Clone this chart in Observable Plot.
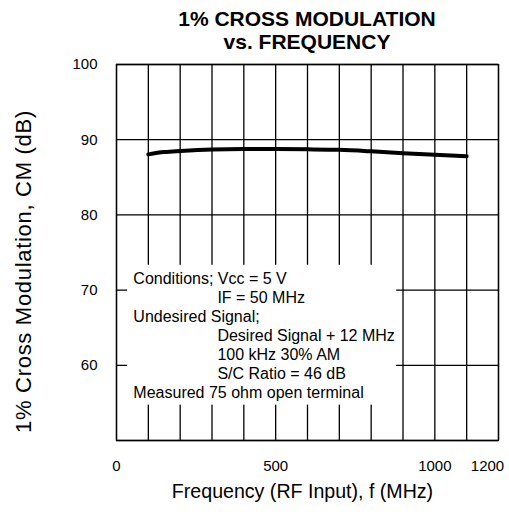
<!DOCTYPE html>
<html><head><meta charset="utf-8">
<script src="https://cdn.jsdelivr.net/npm/d3@7"></script>
<script src="https://cdn.jsdelivr.net/npm/@observablehq/plot@0.6"></script>
<style>
body{margin:0;background:#fff;font-family:"Liberation Sans",Arial,sans-serif;}
#title{margin-left:105px;width:404px;text-align:center;font-weight:bold;font-size:21px;line-height:23px;padding-top:7px;height:46px;color:#000;}
</style></head><body>
<div id="title">1% CROSS MODULATION<br>vs. FREQUENCY</div>
<div id="chart"></div>
<script>
const freq = [100, 150, 200, 300, 400, 500, 600, 700, 800, 900, 1000, 1100];
const cm   = [88.05, 88.35, 88.5, 88.7, 88.75, 88.75, 88.72, 88.65, 88.45, 88.2, 88.0, 87.8];
const xTickMain = [0, 500, 1000];
const xTickEnd = [1200];
const yTicks = [60, 70, 80, 90, 100];
const xGrid = [0, 100, 200, 300, 400, 500, 600, 700, 800, 900, 1000, 1100, 1200];
const yGrid = [50, 60, 70, 80, 90, 100];
const noteLines = [
  "Conditions; Vcc = 5 V",
  "IF = 50 MHz",
  "Undesired Signal;",
  "Desired Signal + 12 MHz",
  "100 kHz 30% AM",
  "S/C Ratio = 46 dB",
  "Measured 75 ohm open terminal"
];
const noteIndent = [false, true, false, true, true, true, false];
const xLabel = "Frequency (RF Input), f (MHz)";
const yLabel = "1% Cross Modulation, CM (dB)";

const data = freq.map((f, i) => ({f, v: cm[i]}));
const notes = noteLines.map((t, i) => ({t, i, indent: noteIndent[i]}));
const noteTop = 71.5, noteStep = 2.527;
const font = "Liberation Sans, Arial, sans-serif";
const fmt = d => String(d);

const chart = Plot.plot({
  width: 509, height: 466,
  marginTop: 11, marginBottom: 79, marginLeft: 116, marginRight: 11,
  style: {fontFamily: font, color: "#000", background: "#fff"},
  x: {domain: [0, 1200]},
  y: {domain: [50, 100]},
  marks: [
    Plot.gridX(xGrid, {stroke: "#000", strokeOpacity: 1, strokeWidth: 1.3}),
    Plot.gridY(yGrid, {stroke: "#000", strokeOpacity: 1, strokeWidth: 1.3}),
    Plot.frame({stroke: "#000", strokeWidth: 1.3}),
    Plot.rect([{}], {x1: 35, x2: 880, y1: 54.7, y2: 73.3, fill: "#fff"}),
    Plot.line(data, {x: "f", y: "v", stroke: "#000", strokeWidth: 4, curve: "monotone-x"}),
    Plot.axisX(xTickMain, {tickSize: 0, tickPadding: 20, fontSize: 15, tickFormat: fmt, label: null}),
    Plot.axisX(xTickEnd, {tickSize: 0, tickPadding: 20, fontSize: 15, dx: -11, tickFormat: fmt, label: null}),
    Plot.axisY(yTicks, {tickSize: 0, tickPadding: 19, fontSize: 15, tickFormat: fmt, label: null}),
    Plot.text(notes.filter(d => !d.indent), {x: 53, y: d => noteTop - d.i * noteStep, text: "t", textAnchor: "start", fontSize: 16, fill: "#000"}),
    Plot.text(notes.filter(d => d.indent), {x: 317, y: d => noteTop - d.i * noteStep, text: "t", textAnchor: "start", fontSize: 16, fill: "#000"}),
    Plot.text([xLabel], {frameAnchor: "bottom", dy: 57, dx: -5, fontSize: 19.6, fill: "#000"}),
    Plot.text([yLabel], {frameAnchor: "left", textAnchor: "middle", rotate: -90, dx: -93, dy: 19, fontSize: 22, fill: "#000"})
  ]
});
chart.querySelectorAll("text").forEach(t => {
  if (t.textContent === yLabel) t.setAttribute("letter-spacing", "0.7");
});
document.getElementById("chart").appendChild(chart);
</script>
</body></html>
